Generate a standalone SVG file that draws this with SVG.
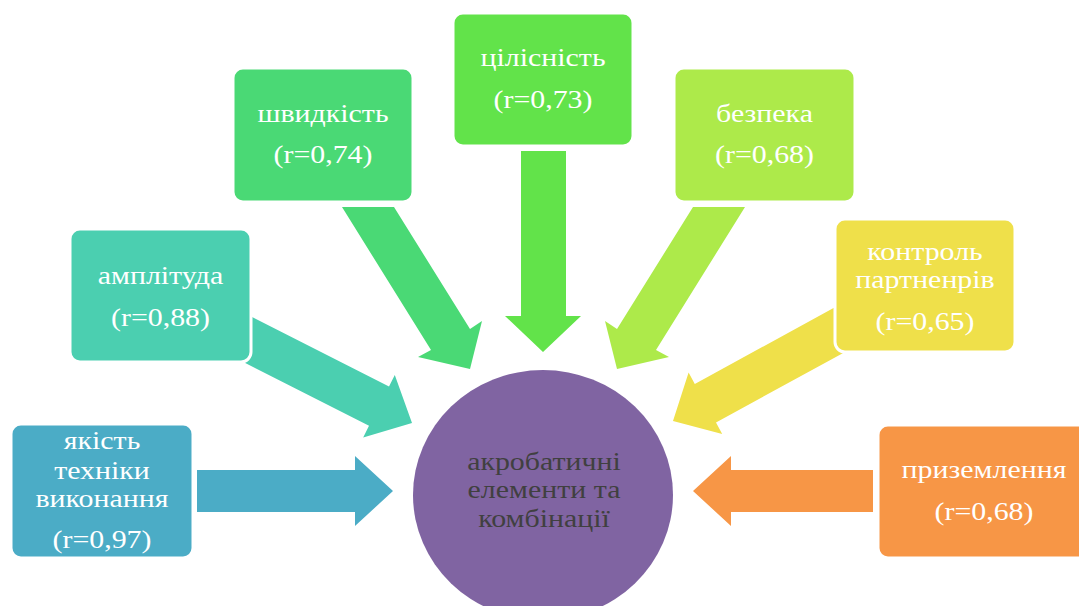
<svg xmlns="http://www.w3.org/2000/svg" width="1079" height="606" viewBox="0 0 1079 606">
<style>
.box{stroke:#ffffff;stroke-width:3}
.lbl{font-family:"Liberation Serif","Times New Roman",serif;font-size:26px;fill:#ffffff;text-anchor:middle}
.ctr{font-family:"Liberation Serif","Times New Roman",serif;font-size:26px;fill:#404040;text-anchor:middle}
</style>
<rect width="1079" height="606" fill="#ffffff"/>
<g id="connectors">
<polygon fill="#4BACC6" points="197,470 355,470 355,456 393,491 355,526 355,512 197,512"/>
<polygon fill="#4BCFB0" points="243.7,312.8 389,386.6 394.8,375 412,423 363.2,437.4 369,425.8 223.7,352"/>
<polygon fill="#4AD975" points="342,207 394,207 470,329 482,321 470,369 418,357 431,350"/>
<polygon fill="#62E34A" points="521,151 566,151 566,316 581,316 543,352 505,316 521,316"/>
<polygon fill="#ADEA4A" points="745,207 693,207 617,329 605,321 617,369 669,357 656,350"/>
<polygon fill="#EFE04A" points="842.2,303.3 694.8,383.9 688.6,372.5 673,421 722.2,433.9 716,422.5 863.4,341.9"/>
<polygon fill="#F79646" points="873,470 731,470 731,456 693,491 731,526 731,512 873,512"/>
</g>
<g id="center">
<ellipse cx="543" cy="495" rx="130" ry="125" fill="#8064A2"/>
<g transform="translate(544,0) scale(1.15,1)">
<text class="ctr" x="0" y="470">акробатичні</text>
<text class="ctr" x="0" y="498">елементи та</text>
<text class="ctr" x="0" y="527">комбінації</text>
</g>
</g>
<g id="node-yakist">
<rect class="box" x="11" y="424" width="182" height="134" rx="10" fill="#4BACC6"/>
<g transform="translate(102,0) scale(1.15,1)">
<text class="lbl" x="0" y="449">якість</text>
<text class="lbl" x="0" y="479">техніки</text>
<text class="lbl" x="0" y="507">виконання</text>
<text class="lbl" x="0" y="548">(r=0,97)</text>
</g>
</g>
<g id="node-amplituda">
<rect class="box" x="70" y="229" width="181" height="133" rx="10" fill="#4BCFB0"/>
<g transform="translate(160.5,0) scale(1.15,1)">
<text class="lbl" x="0" y="284">амплітуда</text>
<text class="lbl" x="0" y="326">(r=0,88)</text>
</g>
</g>
<g id="node-shvydkist">
<rect class="box" x="233" y="68" width="180" height="134" rx="10" fill="#4AD975"/>
<g transform="translate(323,0) scale(1.15,1)">
<text class="lbl" x="0" y="122">швидкість</text>
<text class="lbl" x="0" y="163">(r=0,74)</text>
</g>
</g>
<g id="node-tsilisnist">
<rect class="box" x="453" y="13" width="180" height="133" rx="10" fill="#62E34A"/>
<g transform="translate(543,0) scale(1.15,1)">
<text class="lbl" x="0" y="66">цілісність</text>
<text class="lbl" x="0" y="108">(r=0,73)</text>
</g>
</g>
<g id="node-bezpeka">
<rect class="box" x="674" y="68" width="181" height="134" rx="10" fill="#ADEA4A"/>
<g transform="translate(764.5,0) scale(1.15,1)">
<text class="lbl" x="0" y="122">безпека</text>
<text class="lbl" x="0" y="163">(r=0,68)</text>
</g>
</g>
<g id="node-kontrol">
<rect class="box" x="835" y="219" width="180" height="133" rx="10" fill="#EFE04A"/>
<g transform="translate(925,0) scale(1.15,1)">
<text class="lbl" x="0" y="260">контроль</text>
<text class="lbl" x="0" y="288">партненрів</text>
<text class="lbl" x="0" y="330">(r=0,65)</text>
</g>
</g>
<g id="node-pryzemlennia">
<rect class="box" x="878" y="425" width="212" height="133" rx="10" fill="#F79646"/>
<g transform="translate(984,0) scale(1.15,1)">
<text class="lbl" x="0" y="478">приземлення</text>
<text class="lbl" x="0" y="520">(r=0,68)</text>
</g>
</g>
</svg>
